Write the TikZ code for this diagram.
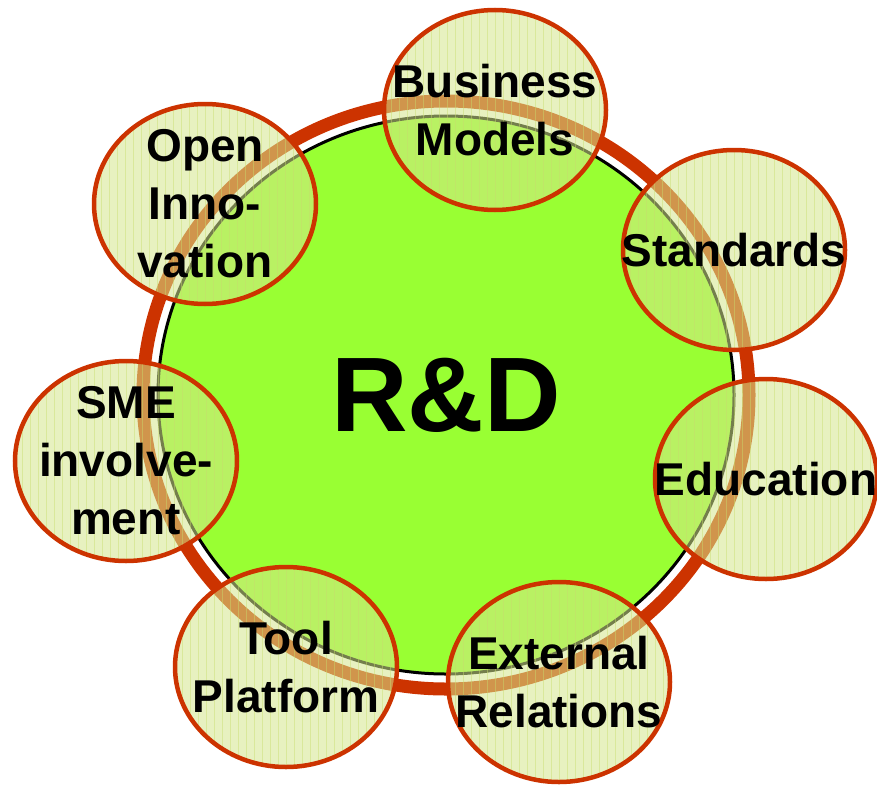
\documentclass[tikz,border=0pt]{standalone}
\usepackage{fontspec}
\setmainfont{Liberation Sans}
\usetikzlibrary{shapes,positioning}
\definecolor{rdgreen}{RGB}{153,255,51}
\definecolor{rdred}{RGB}{204,51,0}
\definecolor{bubblefill}{RGB}{212,230,140}
\definecolor{gridcol}{RGB}{200,220,110}

\begin{document}
\begin{tikzpicture}[x=1pt,y=-1pt,
            core/.style={ellipse,draw=black,line width=3pt,fill=rdgreen,minimum width=576pt,minimum height=558pt,inner sep=0pt,font=\fontsize{106}{120}\selectfont\bfseries},
            ring/.style={draw=rdred,line width=13pt},
            bubble/.style={ellipse,draw=rdred,line width=4.5pt,fill=bubblefill,fill opacity=0.55,minimum width=222pt,minimum height=200pt,inner sep=0pt,
               path picture={\draw[gridcol,line width=0.8pt,opacity=0.45,step=8] (path picture bounding box.south west) grid (path picture bounding box.north east);}},
            bubtext/.style={align=center,inner sep=0pt,font=\fontsize{46}{58}\selectfont\bfseries}]

            \useasboundingbox (0,0) rectangle (877,784);

            % centre
            \node[core] (rd) at (446,395) {R\&D};
            \draw[ring] (rd.center) ellipse [x radius=303,y radius=294];

            % satellites
            \node[bubble] (business) at (495,110) {};
            \node[bubtext] (business-t) at (business) {Business\\Models};
            \node[bubble] (standards) at (734,250) {};
            \node[bubtext] (standards-t) at (standards) {Standards};
            \node[bubble] (education) at (766,479) {};
            \node[bubtext] (education-t) at (education) {Education};
            \node[bubble] (external) at (559,682) {};
            \node[bubtext] (external-t) at (external) {External\\Relations};
            \node[bubble] (tool) at (286,667) {};
            \node[bubtext] (tool-t) at (tool) {Tool\\Platform};
            \node[bubble] (sme) at (126,461) {};
            \node[bubtext] (sme-t) at (sme) {SME\\involve-\\ment};
            \node[bubble] (open) at (205,204) {};
            \node[bubtext] (open-t) at (open) {Open\\Inno-\\vation};
         \end{tikzpicture}
\end{document}
